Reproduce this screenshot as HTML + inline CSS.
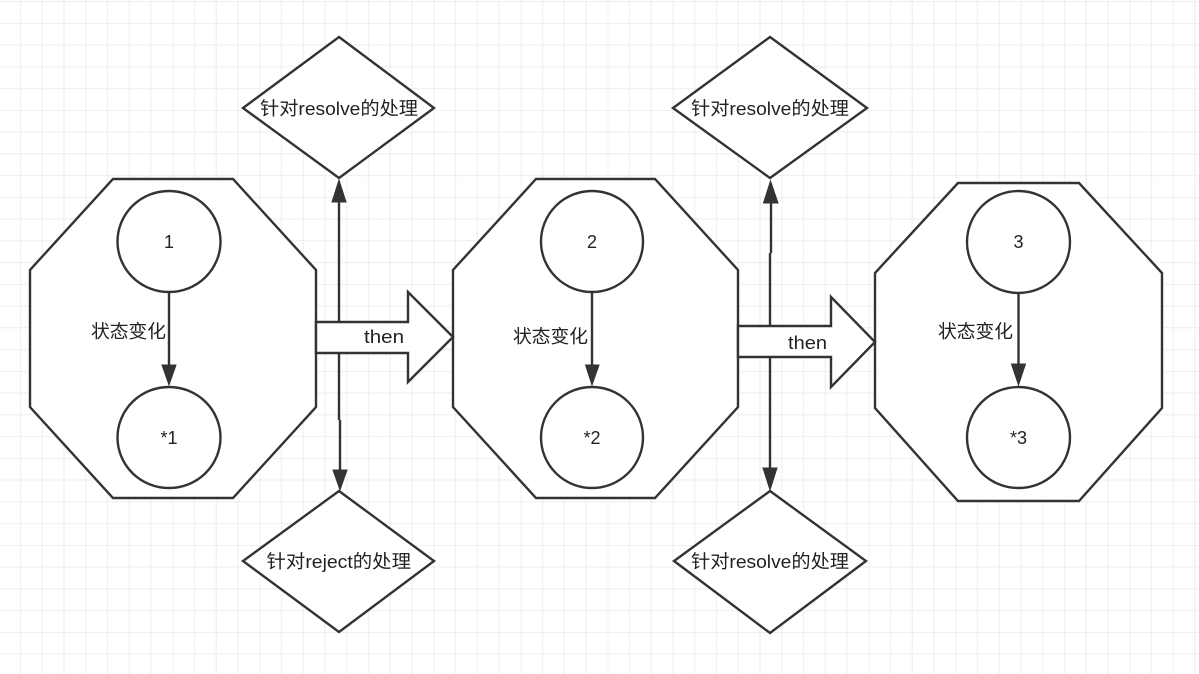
<!DOCTYPE html>
<html><head><meta charset="utf-8"><style>
html,body{margin:0;padding:0;background:#fff;}
svg{display:block;}
text{font-family:"Liberation Sans","Noto Sans CJK SC",sans-serif;fill:#222;}
</style></head><body>
<svg width="1199" height="674" viewBox="0 0 1199 674" xmlns="http://www.w3.org/2000/svg">
<defs>
<pattern id="g" x="-1.25" y="23.3" width="87" height="87" patternUnits="userSpaceOnUse">
<path d="M21.75 0V87M43.5 0V87M65.25 0V87M0 21.75H87M0 43.5H87M0 65.25H87" stroke="#ededed" stroke-width="1" fill="none"/>
<path d="M0 0V87M0 0H87" stroke="#e1e1e1" stroke-width="1" fill="none"/>
</pattern>
</defs>
<rect width="1199" height="674" fill="#fff"/>
<rect width="1199" height="674" fill="url(#g)"/>

<g stroke="#333" stroke-width="2.4" fill="#fff">
<polygon points="113,179 233,179 316,270 316,407 233,498 113,498 30,407 30,270"/>
<polygon points="536,179 655,179 738,270 738,407 655,498 536,498 453,407 453,270"/>
<polygon points="958,183 1079,183 1162,273 1162,408 1079,501 958,501 875,408 875,273"/>

<polygon points="339,37 434,108 339,178 243,108"/>
<polygon points="339,491 434,561 339,632 243,561"/>
<polygon points="770,37 867,108 770,178 673,108"/>
<polygon points="770,491 866,561 770,633 674,561"/>

<ellipse cx="169" cy="241.5" rx="51.5" ry="50.5"/>
<ellipse cx="169" cy="437.5" rx="51.5" ry="50.5"/>
<ellipse cx="592" cy="241.5" rx="51" ry="50.5"/>
<ellipse cx="592" cy="437.5" rx="51" ry="50.5"/>
<ellipse cx="1018.5" cy="242" rx="51.5" ry="51"/>
<ellipse cx="1018.5" cy="437.5" rx="51.5" ry="50.5"/>
</g>

<g stroke="#333" stroke-width="2.4" fill="none">
<line x1="169" y1="292" x2="169" y2="366"/>
<line x1="592" y1="292" x2="592" y2="366"/>
<line x1="1018.5" y1="293" x2="1018.5" y2="366"/>
<line x1="339" y1="200" x2="339" y2="420"/>
<line x1="340" y1="420" x2="340" y2="472"/>
<line x1="771" y1="201" x2="771" y2="253"/>
<line x1="770" y1="253" x2="770" y2="470"/>
</g>
<g fill="#333" stroke="#333" stroke-width="1">
<polygon points="162,365 176,365 169,385"/>
<polygon points="585.5,365 599,365 592,385"/>
<polygon points="1011.5,364 1025.5,364 1018.5,385"/>
<polygon points="332,202 346,202 339,180"/>
<polygon points="333,470 347,470 340,490"/>
<polygon points="763.5,203 778,203 770.5,181"/>
<polygon points="763,468 777,468 770,490"/>
</g>

<g stroke="#333" stroke-width="2.4" fill="#fff" stroke-linejoin="miter">
<polygon points="316,322 408,322 408,292 453,337 408,382 408,353 316,353"/>
<polygon points="738,326 831,326 831,297 875,342 831,387 831,357 738,357"/>
</g>

<g font-size="18.5">
<text x="364" y="343" textLength="40" lengthAdjust="spacingAndGlyphs">then</text>
<text x="788" y="349" textLength="39" lengthAdjust="spacingAndGlyphs">then</text>

<text x="91" y="338" textLength="75" lengthAdjust="spacingAndGlyphs">状态变化</text>
<text x="513" y="343" textLength="75" lengthAdjust="spacingAndGlyphs">状态变化</text>
<text x="938" y="338" textLength="75" lengthAdjust="spacingAndGlyphs">状态变化</text>

<text x="260" y="115" textLength="158" lengthAdjust="spacingAndGlyphs">针对resolve的处理</text>
<text x="266.5" y="568" textLength="144.5" lengthAdjust="spacingAndGlyphs">针对reject的处理</text>
<text x="691" y="115" textLength="158" lengthAdjust="spacingAndGlyphs">针对resolve的处理</text>
<text x="691" y="568" textLength="158" lengthAdjust="spacingAndGlyphs">针对resolve的处理</text>
</g>
<g font-size="18" text-anchor="middle">
<text x="169" y="248">1</text>
<text x="169" y="444">*1</text>
<text x="592" y="248">2</text>
<text x="592" y="444">*2</text>
<text x="1018.5" y="248">3</text>
<text x="1018.5" y="444">*3</text>
</g>
</svg>
</body></html>
